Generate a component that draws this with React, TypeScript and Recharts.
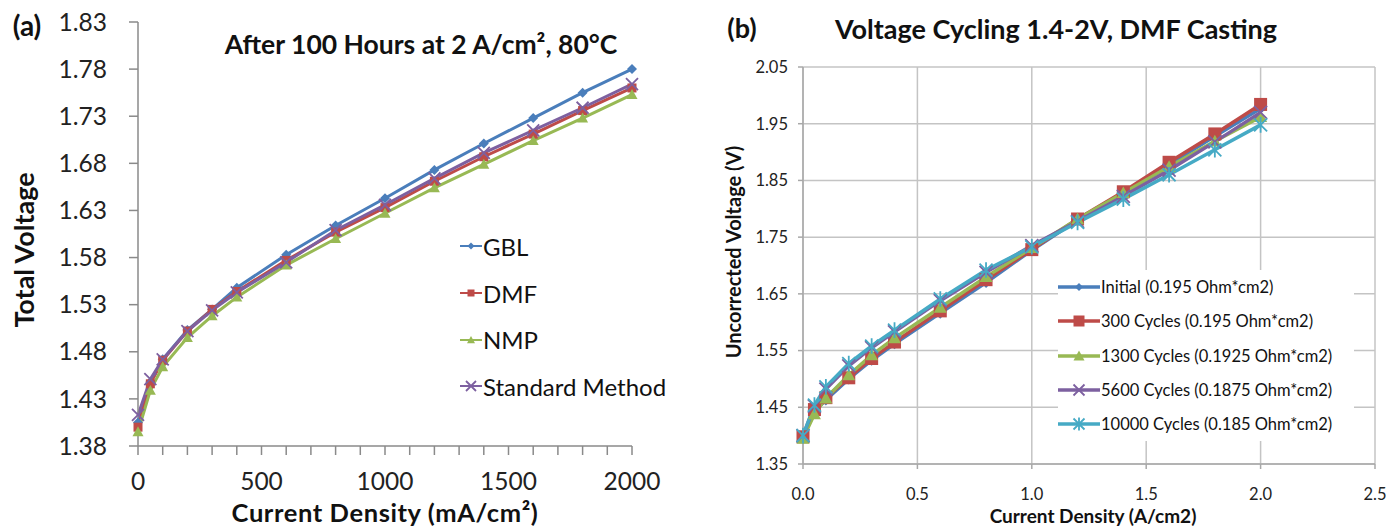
import React from 'react';
import { LineChart, Line, XAxis, YAxis, CartesianGrid, Legend } from 'recharts';

// ---- panel (a): after 100 hours at 2 A/cm2 ----
const LEFT_X = [0, 50, 100, 200, 300, 400, 600, 800, 1000, 1200, 1400, 1600, 1800, 2000];
const GBL = [1.405, 1.448, 1.472, 1.503, 1.525, 1.548, 1.583, 1.614, 1.643, 1.673, 1.701, 1.728, 1.755, 1.78];
const DMF = [1.4, 1.446, 1.471, 1.502, 1.525, 1.544, 1.577, 1.607, 1.633, 1.661, 1.687, 1.711, 1.736, 1.76];
const NMP = [1.395, 1.439, 1.464, 1.495, 1.518, 1.538, 1.572, 1.6, 1.627, 1.654, 1.679, 1.704, 1.728, 1.753];
const STANDARD = [1.413, 1.451, 1.472, 1.502, 1.524, 1.543, 1.575, 1.609, 1.636, 1.664, 1.691, 1.715, 1.739, 1.764];
const LEFT_X_TICKS = [0, 100, 200, 300, 400, 500, 600, 700, 800, 900, 1000, 1100, 1200, 1300, 1400, 1500, 1600, 1700, 1800, 1900, 2000];
const LEFT_Y_TICKS = [1.38, 1.43, 1.48, 1.53, 1.58, 1.63, 1.68, 1.73, 1.78, 1.83];

// ---- panel (b): voltage cycling ----
const RIGHT_X = [0, 0.05, 0.1, 0.2, 0.3, 0.4, 0.6, 0.8, 1.0, 1.2, 1.4, 1.6, 1.8, 2.0];
const INITIAL = [1.4, 1.443, 1.463, 1.5, 1.533, 1.562, 1.616, 1.67, 1.727, 1.78, 1.827, 1.878, 1.928, 1.977];
const CYC_300 = [1.398, 1.446, 1.467, 1.502, 1.536, 1.565, 1.62, 1.675, 1.728, 1.782, 1.83, 1.882, 1.932, 1.984];
const CYC_1300 = [1.395, 1.438, 1.466, 1.507, 1.542, 1.572, 1.626, 1.68, 1.731, 1.782, 1.828, 1.874, 1.919, 1.962];
const CYC_5600 = [1.4, 1.452, 1.482, 1.523, 1.555, 1.583, 1.638, 1.688, 1.735, 1.778, 1.822, 1.868, 1.918, 1.97];
const CYC_10000 = [1.4, 1.454, 1.486, 1.527, 1.558, 1.586, 1.641, 1.692, 1.733, 1.776, 1.817, 1.86, 1.904, 1.948];
const RIGHT_X_TICKS = [0, 0.5, 1.0, 1.5, 2.0, 2.5];
const RIGHT_Y_TICKS = [1.35, 1.45, 1.55, 1.65, 1.75, 1.85, 1.95, 2.05];

const FONT = 'Lato, "Noto Sans", sans-serif';
const BLUE = '#4a7ebb';
const RED = '#be4b48';
const GREEN = '#98b954';
const PURPLE = '#7d60a0';
const CYAN = '#46aac5';

const leftRows = LEFT_X.map((x, i) => ({ x, gbl: GBL[i], dmf: DMF[i], nmp: NMP[i], std: STANDARD[i] }));
const rightRows = RIGHT_X.map((x, i) => ({
  x,
  initial: INITIAL[i],
  c300: CYC_300[i],
  c1300: CYC_1300[i],
  c5600: CYC_5600[i],
  c10000: CYC_10000[i],
}));

type Shape = 'diamond' | 'square' | 'triangle' | 'x' | 'star';

function Marker({ shape, x, y, color, size }: { shape: Shape; x: number; y: number; color: string; size: number }) {
  switch (shape) {
    case 'diamond':
      return <path d={`M${x},${y - size} L${x + size},${y} L${x},${y + size} L${x - size},${y} Z`} fill={color} />;
    case 'square':
      return <rect x={x - size} y={y - size} width={size * 2} height={size * 2} fill={color} />;
    case 'triangle':
      return <path d={`M${x},${y - size} L${x + size},${y + size * 0.8} L${x - size},${y + size * 0.8} Z`} fill={color} />;
    case 'x':
      return (
        <path
          d={`M${x - size},${y - size} L${x + size},${y + size} M${x - size},${y + size} L${x + size},${y - size}`}
          stroke={color}
          strokeWidth={1.8}
          fill="none"
        />
      );
    default:
      return (
        <path
          d={`M${x - size},${y - size} L${x + size},${y + size} M${x - size},${y + size} L${x + size},${y - size} M${x},${y - size * 1.2} L${x},${y + size * 1.2}`}
          stroke={color}
          strokeWidth={1.8}
          fill="none"
        />
      );
  }
}

const makeDot = (shape: Shape, color: string, size: number) => (props: any) => {
  const { cx, cy, index } = props;
  if (cx == null || cy == null) return <g key={`d${index}`} />;
  return (
    <g key={`d${index}`}>
      <Marker shape={shape} x={cx} y={cy} color={color} size={size} />
    </g>
  );
};

interface LegendItem {
  label: string;
  color: string;
  shape: Shape;
  size: number;
}

const LEFT_LEGEND: LegendItem[] = [
  { label: 'GBL', color: BLUE, shape: 'diamond', size: 3.5 },
  { label: 'DMF', color: RED, shape: 'square', size: 3.5 },
  { label: 'NMP', color: GREEN, shape: 'triangle', size: 4 },
  { label: 'Standard Method', color: PURPLE, shape: 'x', size: 5 },
];

const RIGHT_LEGEND: LegendItem[] = [
  { label: 'Initial (0.195 Ohm*cm2)', color: BLUE, shape: 'diamond', size: 4 },
  { label: '300 Cycles (0.195 Ohm*cm2)', color: RED, shape: 'square', size: 5.5 },
  { label: '1300 Cycles (0.1925 Ohm*cm2)', color: GREEN, shape: 'triangle', size: 5.5 },
  { label: '5600 Cycles (0.1875 Ohm*cm2)', color: PURPLE, shape: 'x', size: 5.5 },
  { label: '10000 Cycles (0.185 Ohm*cm2)', color: CYAN, shape: 'star', size: 5.5 },
];

function legendContent(items: LegendItem[], lineW: number, rowH: number, fontSize: number, strokeW: number) {
  return () => (
    <div style={{ fontFamily: FONT, fontSize, color: '#111', background: '#fff' }}>
      {items.map((it) => (
        <div key={it.label} style={{ display: 'flex', alignItems: 'center', height: rowH, whiteSpace: 'nowrap' }}>
          <svg width={lineW} height={16} style={{ flex: 'none' }}>
            <line x1={0} y1={8} x2={lineW} y2={8} stroke={it.color} strokeWidth={strokeW} />
            <Marker shape={it.shape} x={lineW / 2} y={8} color={it.color} size={it.size} />
          </svg>
          <span style={{ marginLeft: 1 }}>{it.label}</span>
        </div>
      ))}
    </div>
  );
}

const overlay = (x: number, y: number, size: number, rotate = false, spacing = 0): React.CSSProperties => ({
  position: 'absolute',
  left: x,
  top: y,
  transform: `translate(-50%, -50%)${rotate ? ' rotate(-90deg)' : ''}`,
  fontFamily: FONT,
  fontWeight: 700,
  fontSize: size,
  lineHeight: 1,
  letterSpacing: spacing,
  color: '#111',
  whiteSpace: 'nowrap',
});

export default function App() {
  const leftTick = { fill: '#222', fontSize: 24.5, fontFamily: FONT };
  const rightTick = { fill: '#222', fontSize: 16.5, fontFamily: FONT };

  return (
    <div style={{ position: 'absolute', left: 0, top: 0, width: 1386, height: 529, background: '#fff', overflow: 'hidden' }}>
      {/* Panel (a) */}
      <div style={{ position: 'absolute', left: 0, top: 0 }}>
        <LineChart width={680} height={529} data={leftRows} margin={{ top: 22, right: 48, bottom: 0, left: 0 }}>
          <XAxis
            type="number"
            dataKey="x"
            domain={[0, 2000]}
            ticks={LEFT_X_TICKS}
            interval={0}
            tickFormatter={(v: number) => (v % 500 === 0 ? String(v) : '')}
            tick={leftTick}
            tickSize={9}
            tickMargin={18}
            height={83}
            axisLine={{ stroke: '#8a8a8a', strokeWidth: 1.5 }}
            tickLine={{ stroke: '#8a8a8a', strokeWidth: 1.5 }}
          />
          <YAxis
            type="number"
            domain={[1.38, 1.83]}
            ticks={LEFT_Y_TICKS}
            interval={0}
            allowDataOverflow
            tickFormatter={(v: number) => v.toFixed(2)}
            tick={leftTick}
            tickSize={9}
            tickMargin={22}
            width={138}
            axisLine={{ stroke: '#8a8a8a', strokeWidth: 1.5 }}
            tickLine={{ stroke: '#8a8a8a', strokeWidth: 1.5 }}
          />
          <Legend
            layout="vertical"
            align="center"
            verticalAlign="middle"
            content={legendContent(LEFT_LEGEND, 22, 46.7, 24, 2)}
            wrapperStyle={{ left: 460, top: 223, width: 220 }}
          />
          <Line type="linear" dataKey="gbl" stroke={BLUE} strokeWidth={3} dot={makeDot('diamond', BLUE, 5)} isAnimationActive={false} />
          <Line type="linear" dataKey="dmf" stroke={RED} strokeWidth={3} dot={makeDot('square', RED, 4.5)} isAnimationActive={false} />
          <Line type="linear" dataKey="nmp" stroke={GREEN} strokeWidth={3} dot={makeDot('triangle', GREEN, 5.5)} isAnimationActive={false} />
          <Line type="linear" dataKey="std" stroke={PURPLE} strokeWidth={3} dot={makeDot('x', PURPLE, 6)} isAnimationActive={false} />
        </LineChart>
      </div>
      <div style={overlay(27, 25, 28)}>(a)</div>
      <div style={overlay(421, 44, 26.5)}>After 100 Hours at 2 A/cm², 80°C</div>
      <div style={overlay(23, 250, 27, true)}>Total Voltage</div>
      <div style={overlay(385, 512.5, 25.5, false, 0.6)}>Current Density (mA/cm²)</div>

      {/* Panel (b) */}
      <div style={{ position: 'absolute', left: 700, top: 0 }}>
        <LineChart width={686} height={529} data={rightRows} margin={{ top: 67, right: 11, bottom: 0, left: 0 }}>
          <CartesianGrid stroke="#c4c4c4" strokeWidth={1.5} />
          <XAxis
            type="number"
            dataKey="x"
            domain={[0, 2.5]}
            ticks={RIGHT_X_TICKS}
            interval={0}
            tickFormatter={(v: number) => v.toFixed(1)}
            tick={rightTick}
            tickSize={5}
            tickMargin={19}
            height={65}
            axisLine={{ stroke: '#a8a8a8', strokeWidth: 1.5 }}
            tickLine={{ stroke: '#a8a8a8', strokeWidth: 1.5 }}
          />
          <YAxis
            type="number"
            domain={[1.35, 2.05]}
            ticks={RIGHT_Y_TICKS}
            interval={0}
            allowDataOverflow
            tickFormatter={(v: number) => v.toFixed(2)}
            tick={rightTick}
            tickSize={5}
            tickMargin={10}
            width={103}
            axisLine={{ stroke: '#a8a8a8', strokeWidth: 1.5 }}
            tickLine={{ stroke: '#a8a8a8', strokeWidth: 1.5 }}
          />
          <Legend
            layout="vertical"
            align="center"
            verticalAlign="middle"
            content={legendContent(RIGHT_LEGEND, 42, 34.3, 16.5, 3.5)}
            wrapperStyle={{ left: 358, top: 270, width: 296 }}
          />
          <Line type="linear" dataKey="initial" stroke={BLUE} strokeWidth={3.5} dot={makeDot('diamond', BLUE, 5.5)} isAnimationActive={false} />
          <Line type="linear" dataKey="c300" stroke={RED} strokeWidth={3.5} dot={makeDot('square', RED, 6.5)} isAnimationActive={false} />
          <Line type="linear" dataKey="c1300" stroke={GREEN} strokeWidth={3.5} dot={makeDot('triangle', GREEN, 6.5)} isAnimationActive={false} />
          <Line type="linear" dataKey="c5600" stroke={PURPLE} strokeWidth={3.5} dot={makeDot('x', PURPLE, 6.5)} isAnimationActive={false} />
          <Line type="linear" dataKey="c10000" stroke={CYAN} strokeWidth={3.5} dot={makeDot('star', CYAN, 6.5)} isAnimationActive={false} />
        </LineChart>
      </div>
      <div style={overlay(742, 27, 27)}>(b)</div>
      <div style={overlay(1056, 28, 27)}>Voltage Cycling 1.4-2V, DMF Casting</div>
      <div style={overlay(733, 252, 20, true)}>Uncorrected Voltage (V)</div>
      <div style={overlay(1093, 515, 19)}>Current Density (A/cm2)</div>
    </div>
  );
}
